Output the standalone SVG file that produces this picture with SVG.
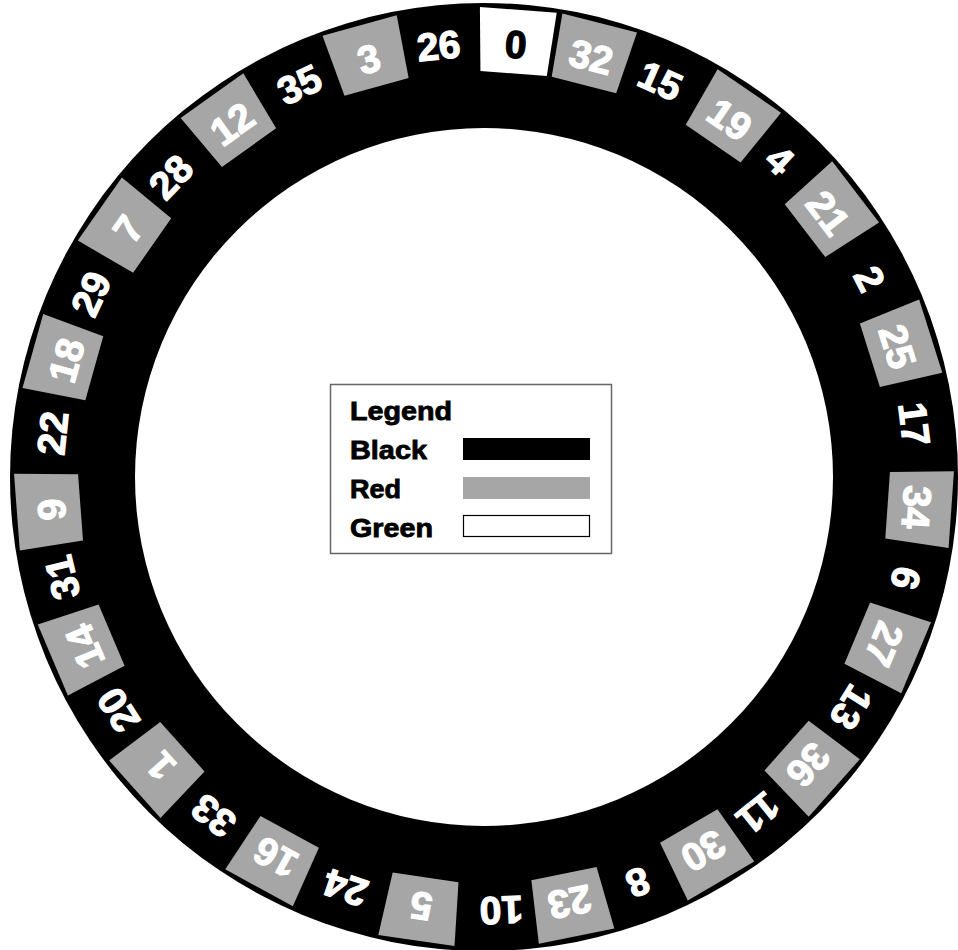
<svg xmlns="http://www.w3.org/2000/svg" xmlns:xlink="http://www.w3.org/1999/xlink" width="958" height="950" viewBox="0 0 958 950">
<style>
.num{font-family:"Liberation Sans",Arial,sans-serif;font-weight:bold;font-size:39px;fill:#fff;stroke:#fff;stroke-width:1.2;text-anchor:middle}
.dk{fill:#000;stroke:#000}
.red{fill:#a6a6a6}
.grn{fill:#fff}
.lg{font-family:"Liberation Sans",Arial,sans-serif;font-weight:bold;font-size:25px;fill:#000;stroke:#000;stroke-width:0.8}
</style>
<defs>
<polygon id="box" points="-38.5,-468.4 38.5,-468.4 33.27,-404.6 -33.27,-404.6"/>
</defs>
<rect width="958" height="950" fill="#fff"/>
<g id="wheel" transform="translate(484,477)">
<circle r="474" fill="#000"/>
<circle r="349" fill="#fff"/>
<g id="pocket-0" transform="rotate(4.2)"><use xlink:href="#box" class="grn"/><text class="num dk" y="-420">0</text></g>
<g id="pocket-32" transform="rotate(14.3)"><use xlink:href="#box" class="red"/><text class="num" y="-420">32</text></g>
<g id="pocket-15" transform="rotate(24.0)"><text class="num" y="-420">15</text></g>
<g id="pocket-19" transform="rotate(34.5)"><use xlink:href="#box" class="red"/><text class="num" y="-420">19</text></g>
<g id="pocket-4" transform="rotate(43.0)"><text class="num" y="-420">4</text></g>
<g id="pocket-21" transform="rotate(52.5)"><use xlink:href="#box" class="red"/><text class="num" y="-420">21</text></g>
<g id="pocket-2" transform="rotate(62.8)"><text class="num" y="-420">2</text></g>
<g id="pocket-25" transform="rotate(72.5)"><use xlink:href="#box" class="red"/><text class="num" y="-420">25</text></g>
<g id="pocket-17" transform="rotate(83.0)"><text class="num" y="-420">17</text></g>
<g id="pocket-34" transform="rotate(94.0)"><use xlink:href="#box" class="red"/><text class="num" y="-420">34</text></g>
<g id="pocket-6" transform="rotate(103.5)"><text class="num" y="-420">6</text></g>
<g id="pocket-27" transform="rotate(112.7)"><use xlink:href="#box" class="red"/><text class="num" y="-420">27</text></g>
<g id="pocket-13" transform="rotate(122.1)"><text class="num" y="-420">13</text></g>
<g id="pocket-36" transform="rotate(131.6)"><use xlink:href="#box" class="red"/><text class="num" y="-420">36</text></g>
<g id="pocket-11" transform="rotate(140.8)"><text class="num" y="-420">11</text></g>
<g id="pocket-30" transform="rotate(149.6)"><use xlink:href="#box" class="red"/><text class="num" y="-420">30</text></g>
<g id="pocket-8" transform="rotate(159.2)"><text class="num" y="-420">8</text></g>
<g id="pocket-23" transform="rotate(168.6)"><use xlink:href="#box" class="red"/><text class="num" y="-420">23</text></g>
<g id="pocket-10" transform="rotate(177.7)"><text class="num" y="-420">10</text></g>
<g id="pocket-5" transform="rotate(188.3)"><use xlink:href="#box" class="red"/><text class="num" y="-420">5</text></g>
<g id="pocket-24" transform="rotate(198.6)"><text class="num" y="-420">24</text></g>
<g id="pocket-16" transform="rotate(208.7)"><use xlink:href="#box" class="red"/><text class="num" y="-420">16</text></g>
<g id="pocket-33" transform="rotate(218.6)"><text class="num" y="-420">33</text></g>
<g id="pocket-1" transform="rotate(228.2)"><use xlink:href="#box" class="red"/><text class="num" y="-420">1</text></g>
<g id="pocket-20" transform="rotate(237.5)"><text class="num" y="-420">20</text></g>
<g id="pocket-14" transform="rotate(247.0)"><use xlink:href="#box" class="red"/><text class="num" y="-420">14</text></g>
<g id="pocket-31" transform="rotate(256.6)"><text class="num" y="-420">31</text></g>
<g id="pocket-9" transform="rotate(265.7)"><use xlink:href="#box" class="red"/><text class="num" y="-420">9</text></g>
<g id="pocket-22" transform="rotate(275.8)"><text class="num" y="-420">22</text></g>
<g id="pocket-18" transform="rotate(285.6)"><use xlink:href="#box" class="red"/><text class="num" y="-420">18</text></g>
<g id="pocket-29" transform="rotate(295.0)"><text class="num" y="-420">29</text></g>
<g id="pocket-7" transform="rotate(304.9)"><use xlink:href="#box" class="red"/><text class="num" y="-420">7</text></g>
<g id="pocket-28" transform="rotate(313.8)"><text class="num" y="-420">28</text></g>
<g id="pocket-12" transform="rotate(324.5)"><use xlink:href="#box" class="red"/><text class="num" y="-420">12</text></g>
<g id="pocket-35" transform="rotate(334.8)"><text class="num" y="-420">35</text></g>
<g id="pocket-3" transform="rotate(344.6)"><use xlink:href="#box" class="red"/><text class="num" y="-420">3</text></g>
<g id="pocket-26" transform="rotate(354.0)"><text class="num" y="-420">26</text></g>
</g>
<g id="legend">
<rect x="330.5" y="384.5" width="281" height="169" fill="#fff" stroke="#666" stroke-width="1.5"/>
<text class="lg" x="350" y="420" textLength="102" lengthAdjust="spacingAndGlyphs">Legend</text>
<text class="lg" x="350" y="459" textLength="77" lengthAdjust="spacingAndGlyphs">Black</text>
<rect x="463" y="438" width="127" height="22" fill="#000"/>
<text class="lg" x="350" y="498" textLength="51" lengthAdjust="spacingAndGlyphs">Red</text>
<rect x="463" y="477" width="127" height="22" fill="#a6a6a6"/>
<text class="lg" x="350" y="537" textLength="83" lengthAdjust="spacingAndGlyphs">Green</text>
<rect x="463.5" y="515.5" width="126" height="21" fill="#fff" stroke="#000" stroke-width="1.2"/>
</g>
<g id="connectors"/>
</svg>
